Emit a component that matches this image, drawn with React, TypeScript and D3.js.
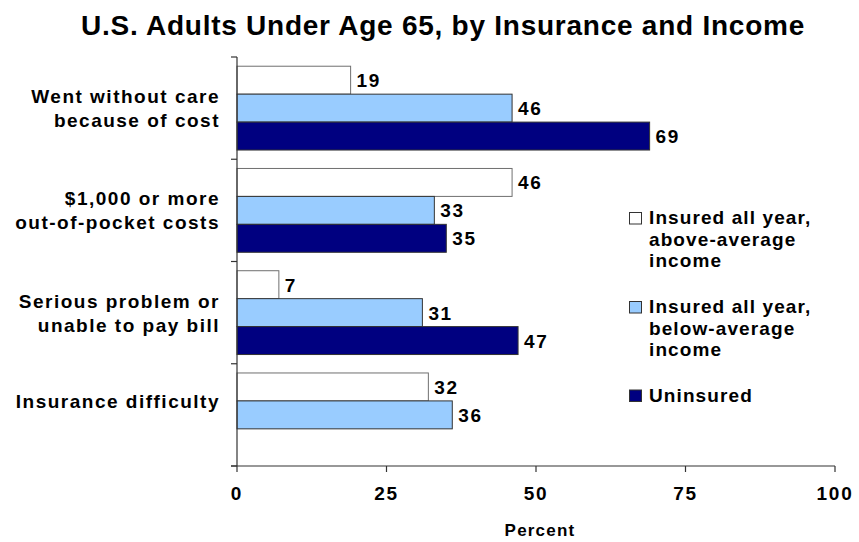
import React from "react";
import * as d3 from "d3";

const categories: string[][] = [
  ["Went without care", "because of cost"],
  ["$1,000 or more", "out-of-pocket costs"],
  ["Serious problem or", "unable to pay bill"],
  ["Insurance difficulty"],
];
const seriesNames = ["above", "below", "uninsured"];
const aboveAverage: (number | null)[] = [19, 46, 7, 32];
const belowAverage: (number | null)[] = [46, 33, 31, 36];
const uninsured: (number | null)[] = [69, 35, 47, null];
const legendLabels: string[][] = [
  ["Insured all year,", "above-average", "income"],
  ["Insured all year,", "below-average", "income"],
  ["Uninsured"],
];
const xTicks = [0, 25, 50, 75, 100];

const title = "U.S. Adults Under Age 65, by Insurance and Income";
const xTitle = "Percent";

const W = 859;
const H = 542;
const FONT = "'Liberation Sans', Arial, sans-serif";
const fills = ["#FFFFFF", "#99CCFF", "#000080"];
const strokes = ["#707070", "#333333", "#333333"];

export default function App() {
  const series = [aboveAverage, belowAverage, uninsured];
  const left = 237;
  const right = 835;
  const top = 57;
  const bottom = 466;

  const x = d3.scaleLinear().domain([0, 100]).range([left, right]);
  const y0 = d3
    .scaleBand<number>()
    .domain(categories.map((_, i) => i))
    .range([top, bottom])
    .padding(0);
  const y1 = d3
    .scaleBand<string>()
    .domain(seriesNames)
    .range([0, y0.bandwidth()])
    .paddingInner(0)
    .paddingOuter(0.33);

  const boundaries = d3.range(categories.length + 1).map((i) => top + i * y0.step());

  const legendY = [224, 313, 401.5];
  const legendLine = 21.6;

  return (
    <svg width={W} height={H} style={{ display: "block", position: "absolute", left: 0, top: 0 }}>
      <rect x={0} y={0} width={W} height={H} fill="#fff" />
      <text
        x={443}
        y={35}
        textAnchor="middle"
        fontFamily={FONT}
        fontWeight="bold"
        fontSize={28}
        letterSpacing={0.75}
        fill="#000"
      >
        {title}
      </text>

      {/* bars */}
      {categories.map((_, ci) =>
        series.map((s, si) => {
          const v = s[ci];
          if (v == null) return null;
          const by = (y0(ci) as number) + (y1(seriesNames[si]) as number);
          const bh = y1.bandwidth();
          return (
            <g key={`${ci}-${si}`}>
              <rect
                x={x(0)}
                y={by}
                width={x(v) - x(0)}
                height={bh}
                fill={fills[si]}
                stroke={strokes[si]}
                strokeWidth={1}
              />
              <text
                x={x(v) + 6}
                y={by + bh / 2 + 7}
                fontFamily={FONT}
                fontWeight="bold"
                fontSize={19}
                letterSpacing={1.6}
                fill="#000"
              >
                {v}
              </text>
            </g>
          );
        })
      )}

      {/* category labels */}
      {categories.map((lines, ci) => {
        const present = series
          .map((s, si) => (s[ci] == null ? null : si))
          .filter((d) => d != null) as number[];
        const t = (y0(ci) as number) + (y1(seriesNames[present[0]]) as number);
        const b =
          (y0(ci) as number) +
          (y1(seriesNames[present[present.length - 1]]) as number) +
          y1.bandwidth();
        const c = (t + b) / 2;
        const lh = 24;
        return (
          <text
            key={ci}
            textAnchor="end"
            fontFamily={FONT}
            fontWeight="bold"
            fontSize={19}
            letterSpacing={1.5}
            fill="#000"
          >
            {lines.map((ln, li) => (
              <tspan key={li} x={220} y={c - ((lines.length - 1) * lh) / 2 + li * lh + 7}>
                {ln}
              </tspan>
            ))}
          </text>
        );
      })}

      {/* axes */}
      <line x1={left} x2={left} y1={top} y2={bottom} stroke="#333" strokeWidth={1.2} />
      {boundaries.map((b, i) => (
        <line key={i} x1={left - 6} x2={left} y1={b} y2={b} stroke="#333" strokeWidth={1.2} />
      ))}
      <line x1={left - 6} x2={right} y1={bottom} y2={bottom} stroke="#333" strokeWidth={1.2} />
      {xTicks.map((t) => (
        <g key={t}>
          <line x1={x(t)} x2={x(t)} y1={bottom} y2={bottom + 6} stroke="#333" strokeWidth={1.2} />
          <text
            x={x(t)}
            y={500}
            textAnchor="middle"
            fontFamily={FONT}
            fontWeight="bold"
            fontSize={19}
            letterSpacing={1.8}
            fill="#000"
          >
            {t}
          </text>
        </g>
      ))}
      <text
        x={540}
        y={536}
        textAnchor="middle"
        fontFamily={FONT}
        fontWeight="bold"
        fontSize={17}
        letterSpacing={1.2}
        fill="#000"
      >
        {xTitle}
      </text>

      {/* legend */}
      {legendLabels.map((lines, i) => (
        <g key={i}>
          <rect
            x={629.5}
            y={legendY[i] - 11.5}
            width={12}
            height={11.5}
            fill={fills[i]}
            stroke="#333"
            strokeWidth={1}
          />
          <text fontFamily={FONT} fontWeight="bold" fontSize={19} letterSpacing={1.1} fill="#000">
            {lines.map((ln, li) => (
              <tspan key={li} x={649} y={legendY[i] + li * legendLine}>
                {ln}
              </tspan>
            ))}
          </text>
        </g>
      ))}
    </svg>
  );
}
